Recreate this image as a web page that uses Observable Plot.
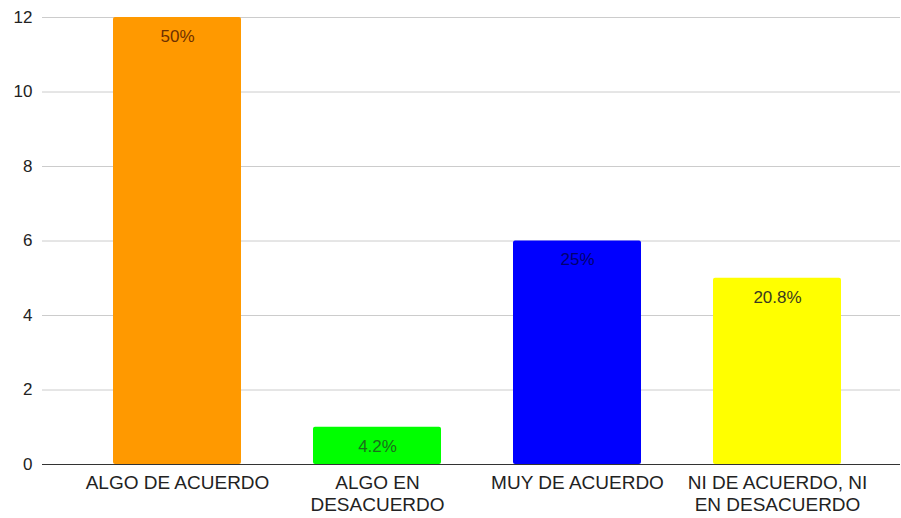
<!DOCTYPE html>
<html>
<head>
<meta charset="utf-8">
<script src="https://cdn.jsdelivr.net/npm/d3@7"></script>
<script src="https://cdn.jsdelivr.net/npm/@observablehq/plot@0.6"></script>
<style>
  html, body { margin: 0; padding: 0; background: #fff; }
  #chart svg { display: block; }
</style>
</head>
<body>
<div id="chart"></div>
<script>
const categories = ["ALGO DE ACUERDO", "ALGO EN DESACUERDO", "MUY DE ACUERDO", "NI DE ACUERDO, NI EN DESACUERDO"];
const tickLabels = ["ALGO DE ACUERDO", "ALGO EN\nDESACUERDO", "MUY DE ACUERDO", "NI DE ACUERDO, NI\nEN DESACUERDO"];
const counts = [12, 1, 6, 5];
const percentLabels = ["50%", "4.2%", "25%", "20.8%"];
const barColors = ["#ff9900", "#00ff00", "#0000ff", "#ffff00"];
const labelColors = ["#6e3000", "#1b6e1b", "#000070", "#3a3a20"];
const yTicks = [0, 2, 4, 6, 8, 10, 12];

const data = categories.map((c, i) => ({
  category: c,
  count: counts[i],
  pct: percentLabels[i],
  fill: barColors[i],
  labelColor: labelColors[i]
}));
const tickMap = new Map(categories.map((c, i) => [c, tickLabels[i]]));

const chart = Plot.plot({
  width: 901,
  height: 518,
  marginLeft: 42,
  marginRight: 1,
  marginTop: 17,
  marginBottom: 54,
  style: { fontFamily: "'Liberation Sans', Arial, sans-serif", fontSize: "17px", color: "#222", background: "#fff" },
  x: { domain: categories, paddingInner: 0.36, paddingOuter: 0.18, insetLeft: 35, insetRight: 23, label: null },
  y: { domain: [0, 12], label: null },
  marks: [
    Plot.ruleY(yTicks.filter(d => d !== 0), { stroke: "#cccccc", strokeWidth: 1 }),
    Plot.barY(data, { x: "category", y: "count", fill: d => d.fill, rx: 2 }),
    Plot.ruleY([0], { stroke: "#333", strokeWidth: 1.2 }),
    Plot.text(data, { x: "category", y: "count", text: "pct", fill: d => d.labelColor, dy: 19, fontSize: 17 }),
    Plot.axisY({ ticks: yTicks, tickSize: 0, tickPadding: 10, fontSize: 17, fill: "#222", label: null }),
    Plot.axisX({ tickSize: 0, tickPadding: 9, fontSize: 19, fill: "#222", label: null, tickFormat: d => tickMap.get(d), lineHeight: 1.15 })
  ]
});
document.getElementById("chart").append(chart);
</script>
</body>
</html>
